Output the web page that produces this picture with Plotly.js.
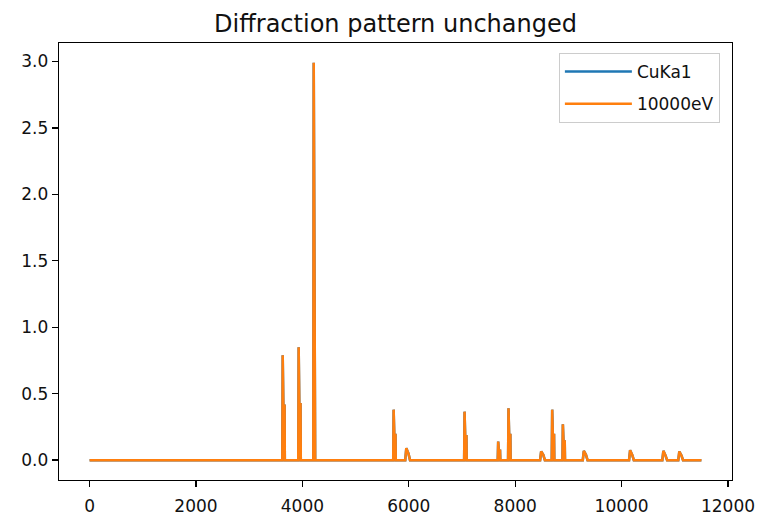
<!DOCTYPE html>
<html>
<head>
<meta charset="utf-8">
<script src="https://cdn.plot.ly/plotly-3.0.1.min.js"></script>
<style>html,body{margin:0;padding:0;background:#fff;}#chart{width:757px;height:516px;}</style>
</head>
<body>
<div id="chart"></div>
<script>
// Sample position (x axis)
const positions = [0, 3622, 3630, 3642, 3665, 3670,
  3922, 3930, 3942, 3965, 3970,
  4205, 4213, 4222, 4235, 4240,
  5707, 5715, 5727, 5750, 5755,
  5933, 5953, 5993, 6023,
  7040, 7048, 7060, 7083, 7088,
  7672, 7680, 7692, 7715, 7720,
  7866, 7874, 7886, 7909, 7914,
  8468, 8488, 8528, 8558,
  8687, 8695, 8707, 8730, 8735,
  8888, 8896, 8908, 8931, 8936,
  9270, 9290, 9330, 9360,
  10140, 10160, 10200, 10230,
  10765, 10785, 10825, 10855,
  11065, 11085, 11125, 11155,
  11500];

// Intensity for CuKa1
const intensityCuKa1 = [0, 0, 0.79, 0.41, 0.41, 0,
  0, 0.85, 0.42, 0.42, 0,
  0, 2.99, 1.5, 1.5, 0,
  0, 0.38, 0.19, 0.19, 0,
  0, 0.09, 0.05, 0,
  0, 0.365, 0.18, 0.18, 0,
  0, 0.14, 0.07, 0.07, 0,
  0, 0.39, 0.19, 0.19, 0,
  0, 0.065, 0.04, 0,
  0, 0.38, 0.19, 0.19, 0,
  0, 0.27, 0.14, 0.14, 0,
  0, 0.07, 0.04, 0,
  0, 0.075, 0.04, 0,
  0, 0.07, 0.035, 0,
  0, 0.065, 0.035, 0,
  0];

// Intensity for 10000 eV (unchanged)
const intensity10000eV = [0, 0, 0.79, 0.41, 0.41, 0,
  0, 0.85, 0.42, 0.42, 0,
  0, 2.99, 1.5, 1.5, 0,
  0, 0.38, 0.19, 0.19, 0,
  0, 0.09, 0.05, 0,
  0, 0.365, 0.18, 0.18, 0,
  0, 0.14, 0.07, 0.07, 0,
  0, 0.39, 0.19, 0.19, 0,
  0, 0.065, 0.04, 0,
  0, 0.38, 0.19, 0.19, 0,
  0, 0.27, 0.14, 0.14, 0,
  0, 0.07, 0.04, 0,
  0, 0.075, 0.04, 0,
  0, 0.07, 0.035, 0,
  0, 0.065, 0.035, 0,
  0];

const seriesNames = ["CuKa1", "10000eV"];
const xTickVals = [0, 2000, 4000, 6000, 8000, 10000, 12000];
const yTickVals = [0, 0.5, 1.0, 1.5, 2.0, 2.5, 3.0];

const font = "DejaVu Sans, sans-serif";

const traces = [
  {x: positions, y: intensityCuKa1, name: seriesNames[0], type: "scatter", mode: "lines",
   legendgroup: "a", line: {color: "#1f77b4", width: 2.5}},
  {x: positions, y: intensity10000eV, name: seriesNames[1], type: "scatter", mode: "lines",
   legendgroup: "b", line: {color: "#ff7f0e", width: 2.5}}
];

const axisCommon = {
  showline: true, mirror: true, linecolor: "#000", linewidth: 1.3,
  ticks: "outside", ticklen: 6, tickwidth: 1.3, tickcolor: "#000",
  showgrid: false, zeroline: false,
  tickfont: {family: font, size: 17, color: "#111"}
};

const layout = {
  width: 757, height: 516,
  margin: {l: 59, r: 25, t: 43, b: 36},
  paper_bgcolor: "#fff", plot_bgcolor: "#fff",
  title: {text: "Diffraction pattern unchanged", font: {family: font, size: 24, color: "#111"},
          x: 0.5225, xanchor: "center", yref: "paper", y: 1, yanchor: "bottom", pad: {b: 11}},
  xaxis: Object.assign({}, axisCommon, {range: [-575, 12075], tickvals: xTickVals,
          ticktext: xTickVals.map(String), ticklabelstandoff: 4}),
  yaxis: Object.assign({}, axisCommon, {range: [-0.1495, 3.1395], tickvals: yTickVals,
          ticktext: yTickVals.map(v => v.toFixed(1))}),
  showlegend: true,
  legend: {x: 0.982, xanchor: "right", y: 0.977, yanchor: "top",
           bgcolor: "#fff", bordercolor: "#ccc", borderwidth: 1,
           traceorder: "grouped", tracegroupgap: 7, itemwidth: 67,
           font: {family: font, size: 17, color: "#111"}}
};

Plotly.newPlot("chart", traces, layout, {staticPlot: true, displayModeBar: false});
</script>
</body>
</html>
